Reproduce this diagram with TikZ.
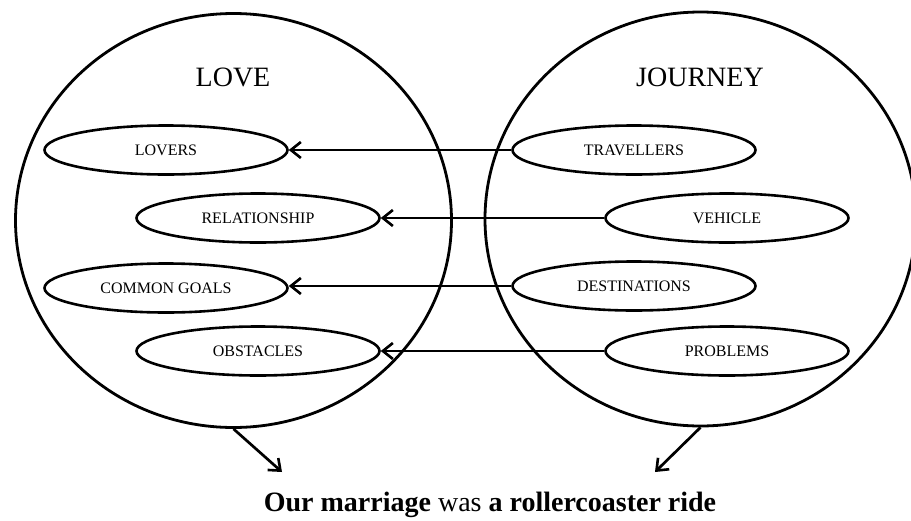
\documentclass[tikz,border=0pt]{standalone}
\usepackage{fontspec}
\setmainfont{Liberation Serif}
\usetikzlibrary{shapes.geometric,arrows.meta}
\begin{document}
\begin{tikzpicture}[x=1pt,y=-1pt,
  domainbox/.style={draw,ellipse,line width=2.8pt,inner sep=0pt},
  concept/.style={draw,ellipse,line width=2.6pt,minimum width=243pt,minimum height=49pt,inner sep=0pt,font=\fontsize{16}{18}\selectfont},
  headline/.style={font=\fontsize{28}{32}\selectfont},
  maparrow/.style={line width=2.7pt,-{Straight Barb[length=10pt,width=16pt,line width=2.6pt]}}]
\useasboundingbox (0,0) rectangle (911,520);
% the two domains
\node[domainbox,minimum width=436pt,minimum height=414pt] (love) at (233.5,220.5) {};
\node[domainbox,minimum width=431pt,minimum height=414pt] (journey) at (700.5,219) {};
\node[headline] (lovet) at (233,77) {LOVE};
\node[headline] (journeyt) at (700,77) {JOURNEY};
% target concepts
\node[concept] (lovers) at (166,150) {LOVERS};
\node[concept] (relation) at (258,218) {RELATIONSHIP};
\node[concept] (goals) at (166,288) {COMMON GOALS};
\node[concept] (obst) at (258,351) {OBSTACLES};
% source concepts
\node[concept] (trav) at (634,150) {TRAVELLERS};
\node[concept] (veh) at (727,218) {VEHICLE};
\node[concept] (dest) at (634,286) {DESTINATIONS};
\node[concept] (prob) at (727,351) {PROBLEMS};
% mappings
\draw[maparrow] (trav.west) -- (lovers.east);
\draw[maparrow] (veh.west) -- (relation.east);
\draw[maparrow] (dest.west) -- (goals.east |- dest.west);
\draw[maparrow] (prob.west) -- (obst.east);
% conclusion
\coordinate (ltip) at (282,472);
\coordinate (rtip) at (655,472);
\draw[maparrow] (love.south) -- (ltip);
\draw[maparrow] (journey.south) -- (rtip);
\node[font=\fontsize{28}{32}\selectfont] (sentence) at (490,505) {\textbf{Our marriage} was \textbf{a rollercoaster ride}};
\end{tikzpicture}
\end{document}
